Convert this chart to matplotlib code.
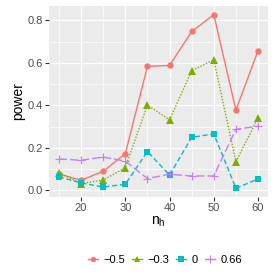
import matplotlib
matplotlib.use("Agg")
import matplotlib.pyplot as plt
from matplotlib.ticker import MultipleLocator
from matplotlib.lines import Line2D

plt.rcParams['font.family'] = ['Liberation Sans', 'DejaVu Sans']

n_h = [15, 20, 25, 30, 35, 40, 45, 50, 55, 60]
series_labels = ["\u22120.5", "\u22120.3", "0", "0.66"]
power_m05 = [0.077, 0.048, 0.090, 0.173, 0.584, 0.588, 0.748, 0.827, 0.378, 0.658]
power_m03 = [0.084, 0.032, 0.049, 0.107, 0.402, 0.332, 0.563, 0.615, 0.135, 0.342]
power_0 = [0.064, 0.035, 0.016, 0.029, 0.183, 0.072, 0.250, 0.266, 0.010, 0.054]
power_066 = [0.148, 0.142, 0.157, 0.138, 0.056, 0.076, 0.068, 0.068, 0.288, 0.302]

series = [power_m05, power_m03, power_0, power_066]
colors = ["#F8766D", "#7CAE00", "#00BFC4", "#C77CFF"]
markers = ["o", "^", "s", "+"]
msizes = [4.6, 5.6, 4.6, 6.0]
linestyles = ["-", (0, (1, 1.2)), (0, (3.6, 2)), (0, (5.8, 2.2))]

fig = plt.figure(figsize=(2.8, 2.8), dpi=100)
ax = fig.add_axes([49/280, 1-197/280, (268-49)/280, (197-6)/280])
ax.set_facecolor("#EBEBEB")
for s in ax.spines.values():
    s.set_visible(False)

ax.xaxis.set_major_locator(MultipleLocator(10))
ax.xaxis.set_minor_locator(MultipleLocator(5))
ax.yaxis.set_major_locator(MultipleLocator(0.2))
ax.yaxis.set_minor_locator(MultipleLocator(0.1))
ax.grid(which="major", color="white", linewidth=1.0)
ax.grid(which="minor", color="white", linewidth=0.5)
ax.set_axisbelow(True)

for vals, c, m, ls, ms in zip(series, colors, markers, linestyles, msizes):
    ax.plot(n_h, vals, color=c, linestyle=ls, linewidth=1.0, marker=m,
            markersize=ms, markeredgewidth=0 if m != "+" else 0.8, markerfacecolor=c,
            markeredgecolor=c)

ax.set_xlim(12.75, 62.25)
ax.set_ylim(-0.031, 0.868)
ax.set_xticks([20, 30, 40, 50, 60])
ax.set_yticks([0.0, 0.2, 0.4, 0.6, 0.8])
ax.set_yticklabels(["0.0", "0.2", "0.4", "0.6", "0.8"])
ax.tick_params(which="major", length=2.8, width=0.8, color="#333333",
               labelsize=8, labelcolor="#4D4D4D", pad=1.5)
ax.tick_params(which="minor", length=0)
ax.set_xlabel("n$_\\mathregular{h}$", fontsize=10, labelpad=1)
ax.set_ylabel("power", fontsize=10, labelpad=2)

handles = []
for c, m, ms in zip(colors, markers, msizes):
    handles.append(Line2D([0], [0], color=c, marker=m, linestyle="-", linewidth=1.0,
                          markersize=ms * 0.85,
                          markeredgewidth=0 if m != "+" else 0.8,
                          markerfacecolor=c, markeredgecolor=c))
fig.legend(handles, series_labels, loc="center", bbox_to_anchor=(165/280, 1-260/280),
           ncol=4, frameon=False, fontsize=8, handlelength=0.9, handletextpad=0.5,
           columnspacing=0.6, borderaxespad=0)

fig.savefig("out.png", dpi=100, facecolor="white")
